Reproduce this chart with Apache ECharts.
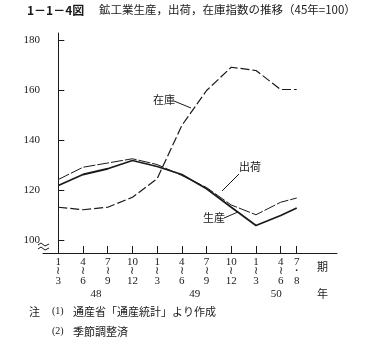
<!DOCTYPE html>
<html>
<head>
<meta charset="utf-8">
<script src="https://cdn.jsdelivr.net/npm/echarts@6/dist/echarts.min.js"></script>
<style>
  html, body { margin: 0; padding: 0; background: #fff; }
  #chart { width: 391px; height: 354px; }
</style>
</head>
<body>
<div id="chart"></div>
<script>
// quarter positions on the x scale (last one is the 7-8 month period)
const xPos = [0, 1, 2, 3, 4, 5, 6, 7, 8, 9, 9.65];
const periods = ['1\n≀\n3', '4\n≀\n6', '7\n≀\n9', '10\n≀\n12', '1\n≀\n3', '4\n≀\n6', '7\n≀\n9', '10\n≀\n12', '1\n≀\n3', '4\n≀\n6', '7\n・\n8'];
const years = ['48', '49', '50'];
const yearPos = [1.5, 5.5, 8.8];
const yTicks = [100, 120, 140, 160, 180];

const production = [122, 126.4, 128.7, 132, 129.6, 126.4, 120.7, 113.3, 106, 110, 113];
const shipments  = [124.4, 129.3, 131, 132.7, 130.4, 126, 121.2, 114.2, 110.3, 115.3, 117];
const inventory  = [113.3, 112.3, 113.3, 117.3, 124.7, 146, 160, 169.3, 168, 160.4, 160.4];

const ink = '#1a1a1a';
const numFont = '"Liberation Serif", "DejaVu Serif", serif';
const cjkFont = '"Noto Sans CJK JP", "Noto Sans", sans-serif';

function pairs(vals) {
  return vals.map((v, i) => [xPos[i], v]);
}

const chart = echarts.init(document.getElementById('chart'));

const baseGraphic = [
  { type: 'text', left: 27, top: 4, style: { text: '1－1－4図', font: 'bold 12px ' + cjkFont, fill: ink } },
  { type: 'text', left: 99, top: 4, style: { text: '鉱工業生産，出荷，在庫指数の推移（45年=100）', font: '11.5px ' + cjkFont, fill: ink } },
  // axis break mark
  { type: 'polyline', shape: { points: [[38, 245], [41, 243], [45, 246], [49, 244]] }, style: { stroke: ink, lineWidth: 1, fill: null } },
  { type: 'polyline', shape: { points: [[38, 249], [41, 247], [45, 250], [49, 248]] }, style: { stroke: ink, lineWidth: 1, fill: null } },
  // series labels with leaders
  { type: 'text', left: 153, top: 94, style: { text: '在庫', font: '11px ' + cjkFont, fill: ink } },
  { type: 'line', shape: { x1: 174, y1: 101, x2: 191, y2: 108 }, style: { stroke: ink, lineWidth: 1 } },
  { type: 'text', left: 239, top: 161, style: { text: '出荷', font: '11px ' + cjkFont, fill: ink } },
  { type: 'line', shape: { x1: 239, y1: 174, x2: 222, y2: 191 }, style: { stroke: ink, lineWidth: 1 } },
  { type: 'text', left: 203, top: 212, style: { text: '生産', font: '11px ' + cjkFont, fill: ink } },
  { type: 'line', shape: { x1: 224, y1: 218, x2: 238, y2: 212 }, style: { stroke: ink, lineWidth: 1 } },
  // axis captions
  { type: 'text', left: 317, top: 261, style: { text: '期', font: '11px ' + cjkFont, fill: ink } },
  { type: 'text', left: 317, top: 288, style: { text: '年', font: '11px ' + cjkFont, fill: ink } },
  // notes
  { type: 'text', left: 29, top: 306, style: { text: '注', font: '11px ' + cjkFont, fill: ink } },
  { type: 'text', left: 52, top: 306, style: { text: '(1)', font: '10px ' + numFont, fill: ink } },
  { type: 'text', left: 73, top: 306, style: { text: '通産省「通産統計」より作成', font: '11px ' + cjkFont, fill: ink } },
  { type: 'text', left: 52, top: 326, style: { text: '(2)', font: '10px ' + numFont, fill: ink } },
  { type: 'text', left: 73, top: 326, style: { text: '季節調整済', font: '11px ' + cjkFont, fill: ink } }
];

chart.setOption({
  backgroundColor: '#fff',
  animation: false,
  grid: { left: 43, right: 54, top: 33, bottom: 101 },
  xAxis: {
    type: 'value', min: -0.62, max: 11.28,
    axisLine: { show: true, lineStyle: { color: ink, width: 1 } },
    axisTick: { show: true, inside: true, length: 7, customValues: xPos, lineStyle: { color: ink } },
    splitLine: { show: false },
    axisLabel: {
      customValues: xPos, margin: 4, color: ink, fontFamily: numFont, fontSize: 11, lineHeight: 9.5,
      formatter: v => periods[xPos.indexOf(v)] || ''
    }
  },
  yAxis: {
    type: 'value', min: 95, max: 183,
    axisLine: { show: true, lineStyle: { color: ink, width: 1 } },
    axisTick: { show: true, inside: true, length: 6, customValues: yTicks, lineStyle: { color: ink } },
    splitLine: { show: false },
    axisLabel: { customValues: yTicks, margin: 3, color: ink, fontFamily: numFont, fontSize: 11 }
  },
  series: [
    {
      name: '生産', type: 'line', data: pairs(production), symbol: 'none',
      lineStyle: { color: ink, width: 1.8 }
    },
    {
      name: '出荷', type: 'line', data: pairs(shipments), symbol: 'none',
      lineStyle: { color: ink, width: 1, type: [12, 2] }
    },
    {
      name: '在庫', type: 'line', data: pairs(inventory), symbol: 'none',
      lineStyle: { color: ink, width: 1.2, type: [9, 3] }
    }
  ],
  graphic: baseGraphic
});

// year captions placed under their quarters through the x scale
const yearLabels = years.map((y, i) => {
  const px = chart.convertToPixel({ gridIndex: 0 }, [yearPos[i], 100]);
  return {
    type: 'text', id: 'year' + i, left: px[0] - 5, top: 289,
    style: { text: y, font: '11px ' + numFont, fill: ink }
  };
});
chart.setOption({ graphic: baseGraphic.concat(yearLabels) }, { replaceMerge: ['graphic'] });
</script>
</body>
</html>
